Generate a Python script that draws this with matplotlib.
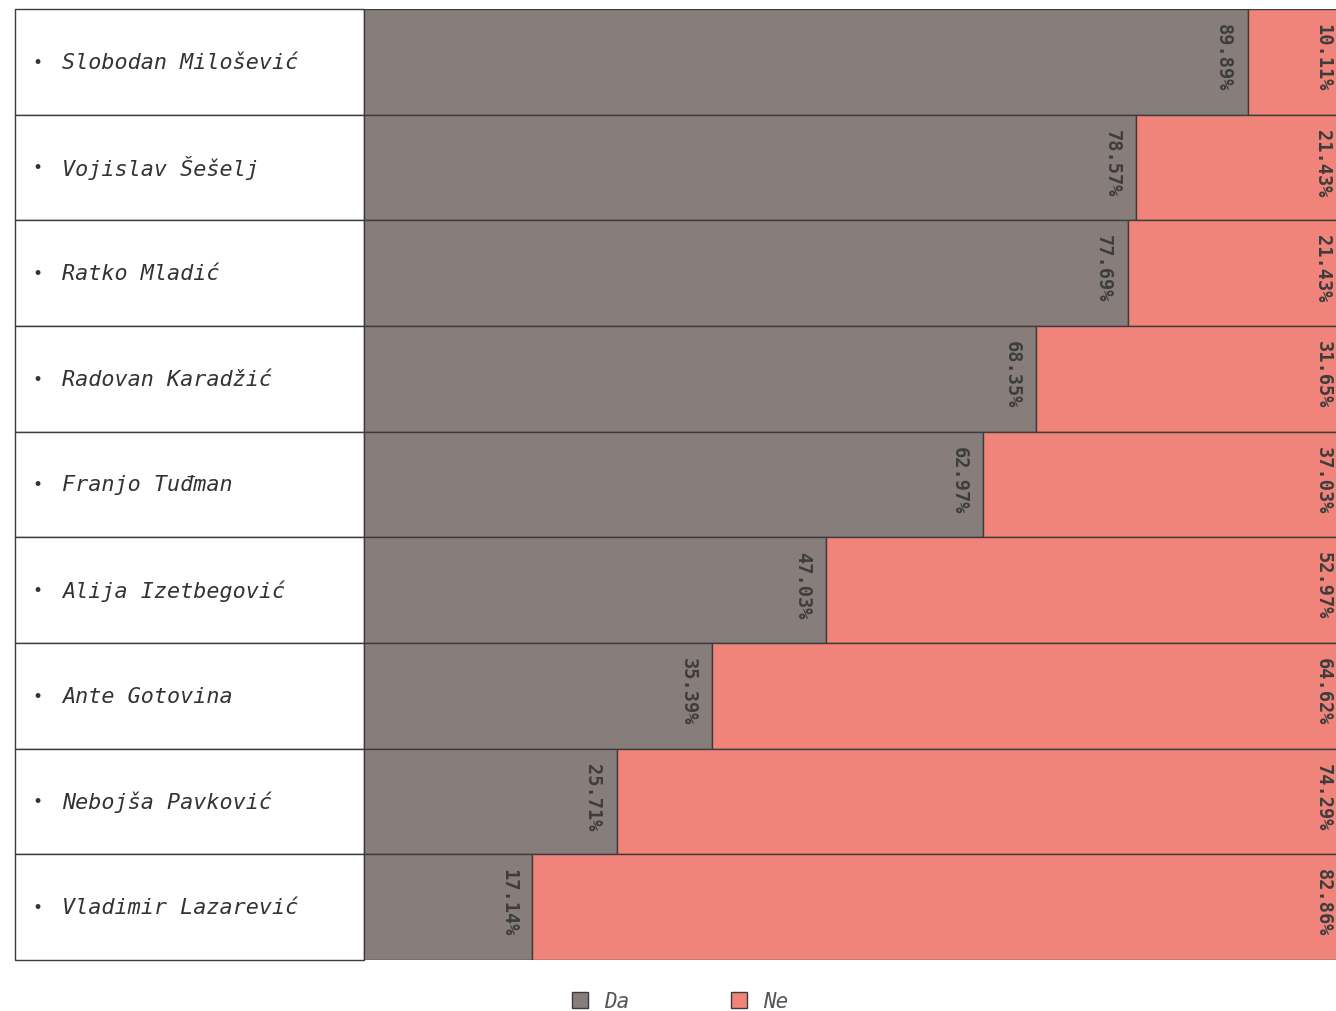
import matplotlib.pyplot as plt
from matplotlib.patches import Patch

names = ["Slobodan Milošević", "Vojislav Šešelj", "Ratko Mladić", "Radovan Karadžić",
         "Franjo Tuđman", "Alija Izetbegović", "Ante Gotovina", "Nebojša Pavković",
         "Vladimir Lazarević"]
da = [89.89, 78.57, 77.69, 68.35, 62.97, 47.03, 35.39, 25.71, 17.14]
ne = [10.11, 21.43, 21.43, 31.65, 37.03, 52.97, 64.62, 74.29, 82.86]

c_da = "#877e7b"
c_ne = "#f0837a"
edge = "#3c3c3c"
mono = "DejaVu Sans Mono"

W, H = 1336, 1012
fig = plt.figure(figsize=(W / 100, H / 100), dpi=100)

# pixel layout: name column 15..364, bars start at 364, 100% = 983 px
px_per_pct = 9.83
x0, x_bar, x1 = 15, 364, W
y_top, y_bot = 10, 961
ax = fig.add_axes([x0 / W, 1 - y_bot / H, (x1 - x0) / W, (y_bot - y_top) / H])
left_lim = -(x_bar - x0) / px_per_pct
ax.set_xlim(left_lim, (x1 - x_bar) / px_per_pct)
n = len(names)
ax.set_ylim(n - 0.5, -0.5)
ax.axis("off")

ys = list(range(n))
ax.barh(ys, [-left_lim] * n, left=left_lim, height=1.0, color="white",
        edgecolor=edge, linewidth=1.0, clip_on=False)
ax.barh(ys, da, left=0, height=1.0, color=c_da, edgecolor=edge, linewidth=1.0)
ax.barh(ys, ne, left=da, height=1.0, color=c_ne, edgecolor=edge, linewidth=1.0)

row_px = (y_bot - y_top) / n
off = 24 / px_per_pct
for i, (name, d, e) in enumerate(zip(names, da, ne)):
    ax.text(left_lim + 22 / px_per_pct, i, "•", fontsize=12, family=mono,
            color="#333333", ha="center", va="center")
    ax.text(left_lim + 47 / px_per_pct, i, name, fontsize=15.7, family=mono,
            style="italic", color="#333333", ha="left", va="center")
    ty = i - 0.5 + 14 / row_px
    ax.text(d - off, ty, f"{d:.2f}%", rotation=270, fontsize=13.4, family=mono,
            weight="bold", color="#3d3d3d", ha="center", va="top")
    ax.text(100 - off, ty, f"{e:.2f}%", rotation=270, fontsize=13.4, family=mono,
            weight="bold", color="#3d3d3d", ha="center", va="top", clip_on=True)

handles = [Patch(facecolor=c_da, edgecolor=edge, label="Da"),
           Patch(facecolor=c_ne, edgecolor=edge, label="Ne")]
leg = fig.legend(handles=handles, loc="center", bbox_to_anchor=(680 / W, 1 - 1002 / H),
                 ncol=2, frameon=False, handlelength=0.78, handleheight=0.78,
                 handletextpad=0.75, columnspacing=4.9,
                 prop={"family": mono, "style": "italic", "size": 15})
for t in leg.get_texts():
    t.set_color("#555555")

fig.savefig("out.png", dpi=100)
